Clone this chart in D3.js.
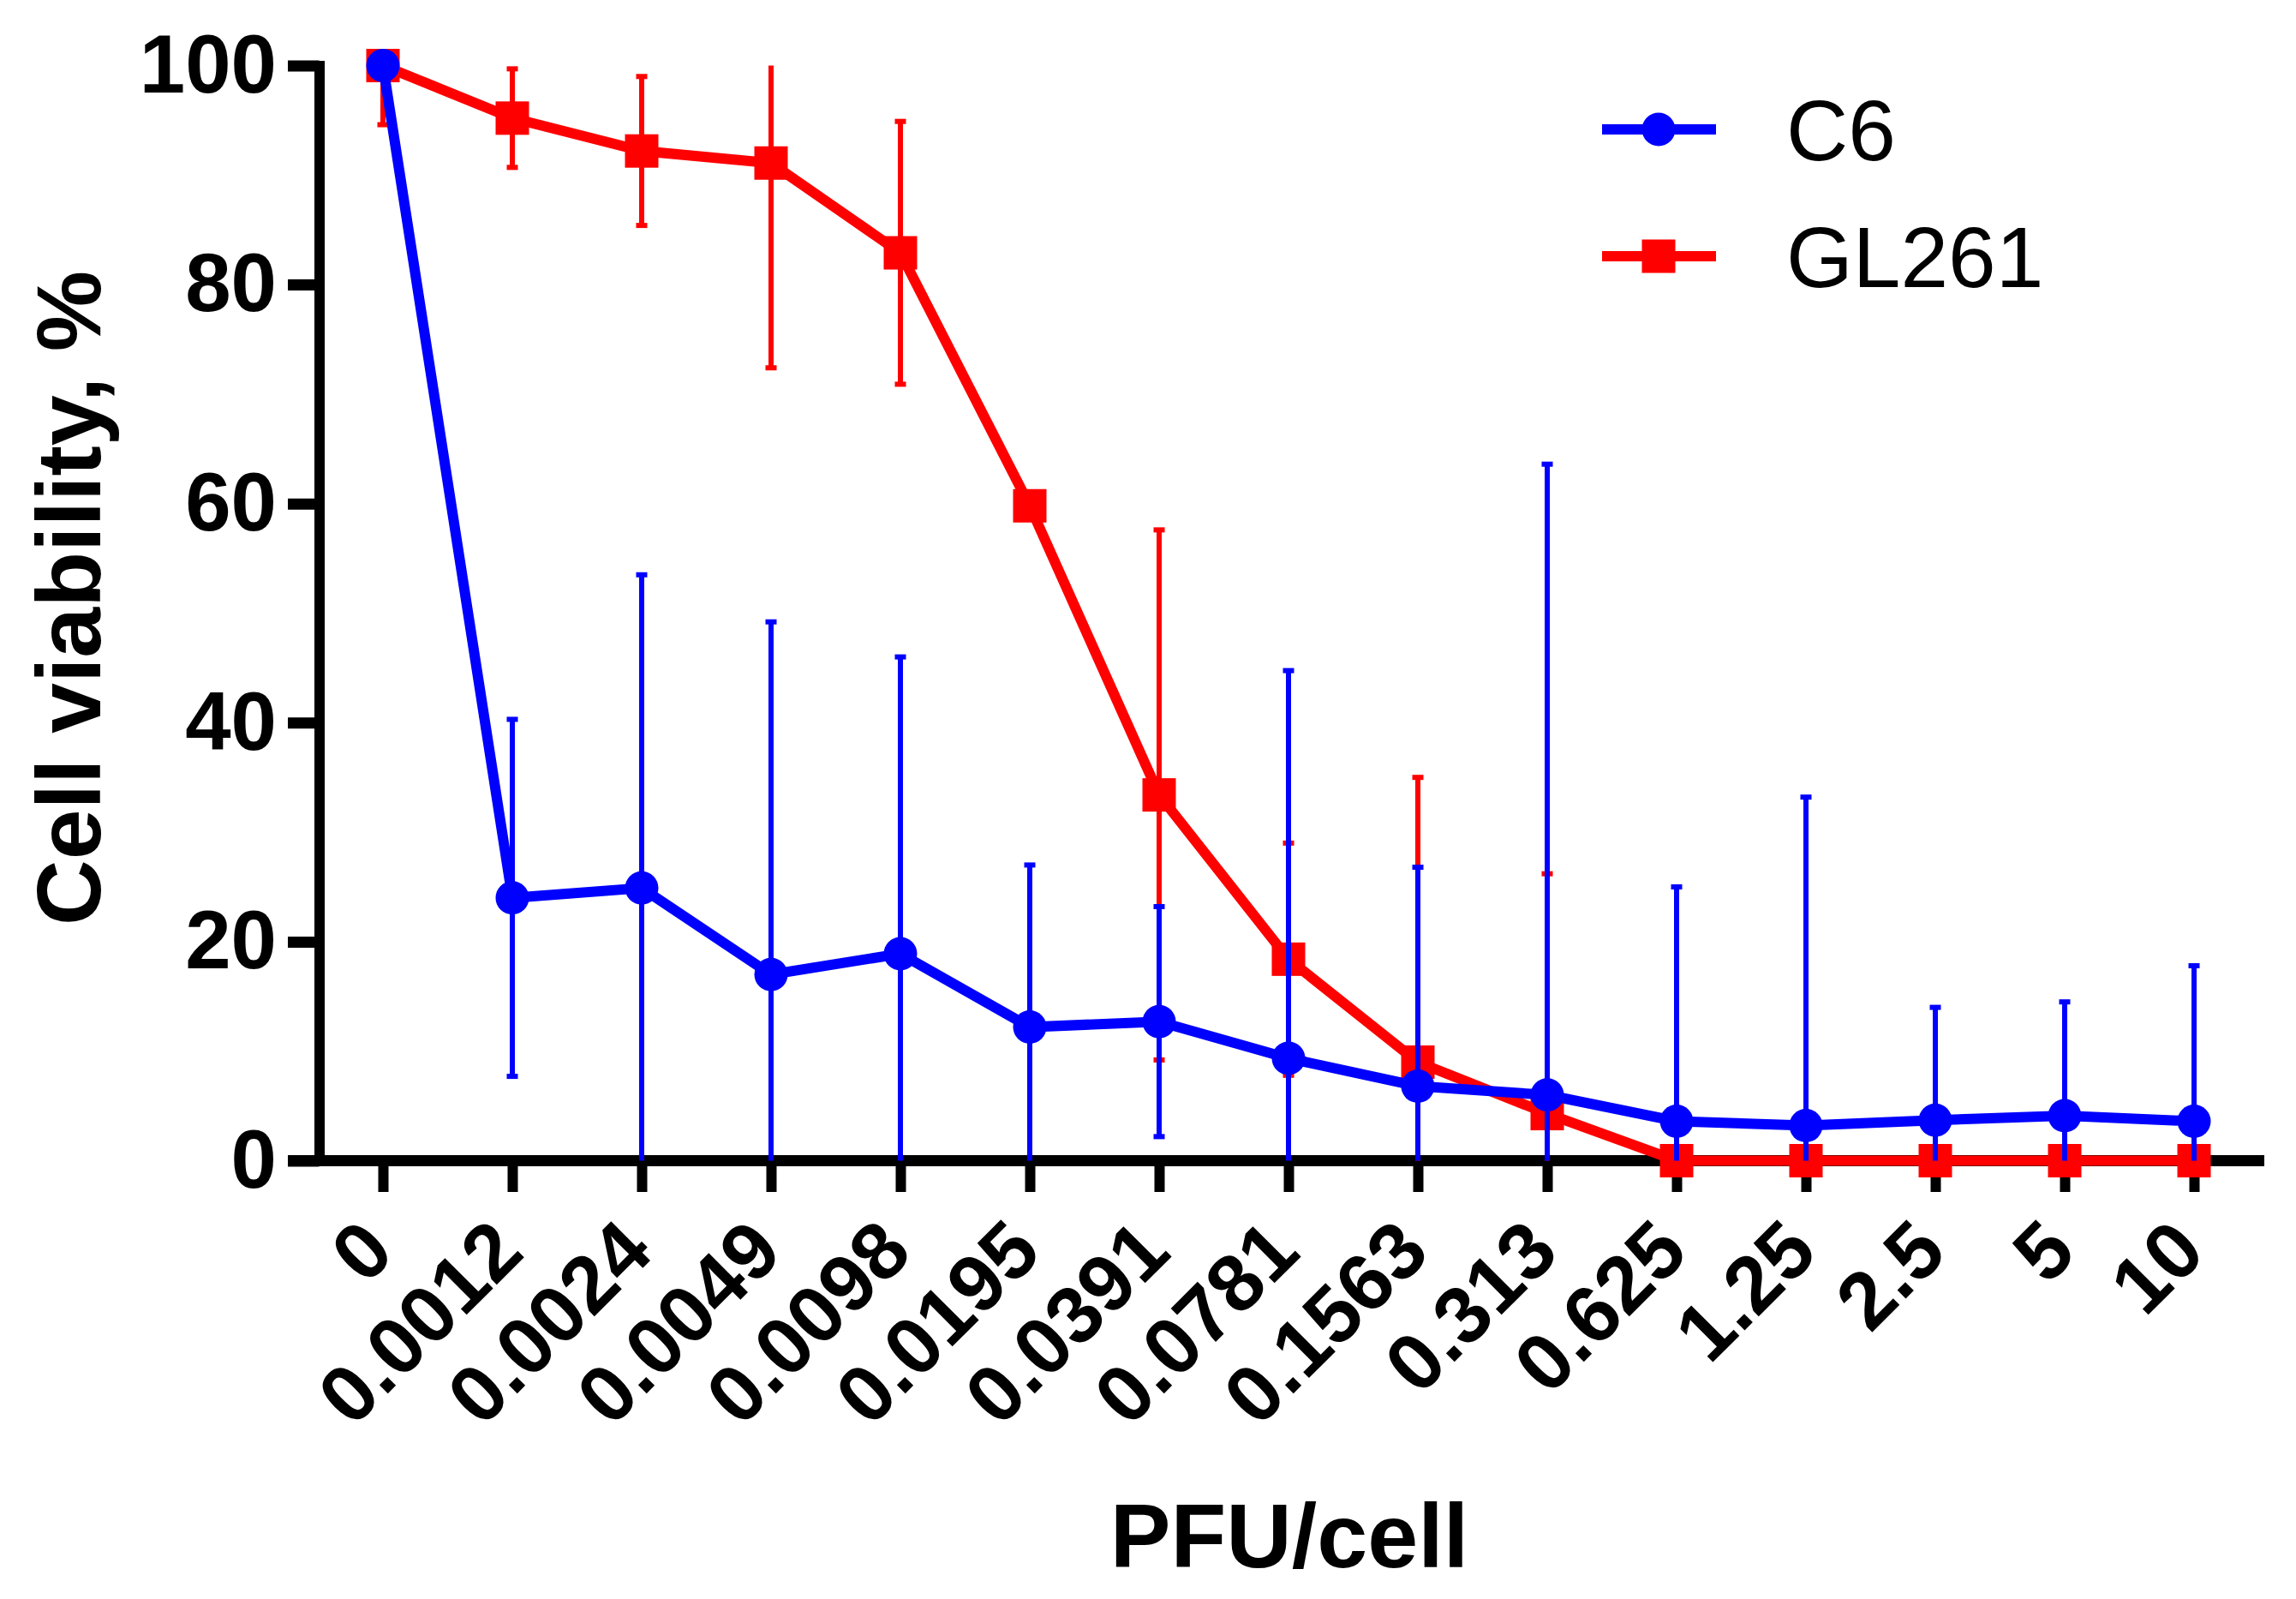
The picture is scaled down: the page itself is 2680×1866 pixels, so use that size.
<!DOCTYPE html>
<html lang="en">

<head>
    <meta charset="UTF-8">
    <title>Cell viability vs PFU/cell</title>
    <script src="https://d3js.org/d3.v7.min.js"></script>
    <style>
        body,
        html {
            margin: 0;
            padding: 0;
            background: #fff;
        }

        svg text {
            font-family: "Liberation Sans", Arial, sans-serif;
        }
    </style>
</head>

<body>
    <svg width="2680" height="1866" id="chart"></svg>

    <script>
        // Doses on the x axis (PFU/cell)
        const categories = ["0", "0.0012", "0.0024", "0.0049", "0.0098", "0.0195", "0.0391",
            "0.0781", "0.1563", "0.313", "0.625", "1.25", "2.5", "5", "10"];

        // C6 mean and SD, %
        const c6Mean = [100, 24.0, 24.9, 17.0, 18.9, 12.2, 12.7, 9.35, 6.8, 6.0, 3.6, 3.2, 3.7, 4.1, 3.6];
        const c6Sd = [0, 16.3, 28.6, 32.2, 27.1, 14.8, 10.5, 35.4, 20.0, 57.6, 21.4, 30.0, 10.3, 10.4, 14.2];

        // GL261 mean and SD, %
        const gl261Mean = [100, 95.2, 92.2, 91.1, 82.9, 59.8, 33.4, 18.4, 9.0, 4.3, 0, 0, 0, 0, 0];
        const gl261Sd = [5.4, 4.5, 6.8, 18.7, 12.0, 1.0, 24.2, 10.6, 26.0, 21.9, 0, 0, 0, 0, 0];

        const yTicks = [0, 20, 40, 60, 80, 100];
        const seriesNames = ["C6", "GL261"];

        const svg = d3.select("#chart");

        const x = d3.scalePoint().domain(categories).range([447, 2561]);
        const y = d3.scaleLinear().domain([0, 100]).range([1354.5, 76.5]);

        const axisW = 12;
        const yAxisX = 372.5;

        // y axis
        const gy = svg.append("g")
            .attr("transform", `translate(${yAxisX},0)`)
            .call(d3.axisLeft(y).tickValues(yTicks).tickSize(36.5).tickSizeOuter(0).tickPadding(13))
            .attr("font-family", null)
            .attr("font-size", 96)
            .attr("font-weight", "bold");
        gy.select(".domain").attr("stroke-width", axisW).attr("stroke-linecap", "square");
        gy.selectAll(".tick line").attr("stroke-width", 13);
        gy.selectAll(".tick text").attr("fill", "#000");

        // x axis
        const gx = svg.append("g")
            .attr("transform", `translate(0,${y(0)})`)
            .call(d3.axisBottom(x).tickSize(36.5).tickSizeOuter(0))
            .attr("font-family", null)
            .attr("font-size", 94)
            .attr("font-weight", "bold");
        gx.select(".domain").remove();
        gx.selectAll(".tick line").attr("stroke-width", 12);
        gx.selectAll(".tick text")
            .attr("fill", "#000")
            .attr("y", 0)
            .attr("dy", 0)
            .attr("text-anchor", "end")
            .attr("transform", "translate(16,110) rotate(-45)");
        gx.append("line")
            .attr("x1", x(categories[0]) - 111)
            .attr("x2", x(categories[categories.length - 1]) + 82)
            .attr("stroke", "#000")
            .attr("stroke-width", 13);

        function drawSeries(means, sds, color, shape) {
            const g = svg.append("g");

            // error bars, clipped to the axis range
            means.forEach((m, i) => {
                const s = sds[i];
                if (!s) return;
                const cx = x(categories[i]);
                const hi = Math.min(100, m + s);
                const lo = Math.max(0, m - s);
                g.append("line")
                    .attr("x1", cx).attr("x2", cx)
                    .attr("y1", y(hi)).attr("y2", y(lo))
                    .attr("stroke", color).attr("stroke-width", 6);
                [[m + s, hi], [m - s, lo]].forEach(([raw, v]) => {
                    if (raw !== v) return;
                    g.append("line")
                        .attr("x1", cx - 6.5).attr("x2", cx + 6.5)
                        .attr("y1", y(v)).attr("y2", y(v))
                        .attr("stroke", color).attr("stroke-width", 6);
                });
            });

            const line = d3.line()
                .x((d, i) => x(categories[i]))
                .y(d => y(d));
            g.append("path")
                .datum(means)
                .attr("d", line)
                .attr("fill", "none")
                .attr("stroke", color)
                .attr("stroke-width", 12);

            if (shape === "circle") {
                g.selectAll("circle")
                    .data(means)
                    .enter()
                    .append("circle")
                    .attr("cx", (d, i) => x(categories[i]))
                    .attr("cy", d => y(d))
                    .attr("r", 19.5)
                    .attr("fill", color);
            } else {
                g.selectAll("rect")
                    .data(means)
                    .enter()
                    .append("rect")
                    .attr("x", (d, i) => x(categories[i]) - 19.5)
                    .attr("y", d => y(d) - 19.5)
                    .attr("width", 39)
                    .attr("height", 39)
                    .attr("fill", color);
            }
        }

        drawSeries(gl261Mean, gl261Sd, "#ff0000", "square");
        drawSeries(c6Mean, c6Sd, "#0000ff", "circle");

        // legend
        const legend = svg.append("g");
        const legendItems = [
            { name: seriesNames[0], color: "#0000ff", shape: "circle", y: 151 },
            { name: seriesNames[1], color: "#ff0000", shape: "square", y: 299 }
        ];
        legendItems.forEach(it => {
            legend.append("line")
                .attr("x1", 1870).attr("x2", 2003)
                .attr("y1", it.y).attr("y2", it.y)
                .attr("stroke", it.color).attr("stroke-width", 12);
            if (it.shape === "circle") {
                legend.append("circle").attr("cx", 1936).attr("cy", it.y).attr("r", 19.5).attr("fill", it.color);
            } else {
                legend.append("rect").attr("x", 1936 - 19.5).attr("y", it.y - 19.5)
                    .attr("width", 39).attr("height", 39).attr("fill", it.color);
            }
            legend.append("text")
                .attr("x", 2085)
                .attr("y", it.y + 36)
                .attr("font-size", 100)
                .attr("fill", "#000")
                .text(it.name);
        });

        // axis titles
        svg.append("text")
            .attr("transform", "translate(117,698) rotate(-90)")
            .attr("text-anchor", "middle")
            .attr("font-size", 106)
            .attr("font-weight", "bold")
            .text("Cell viability, %");

        svg.append("text")
            .attr("x", 1505)
            .attr("y", 1829)
            .attr("text-anchor", "middle")
            .attr("font-size", 106)
            .attr("font-weight", "bold")
            .text("PFU/cell");
    </script>
</body>

</html>
